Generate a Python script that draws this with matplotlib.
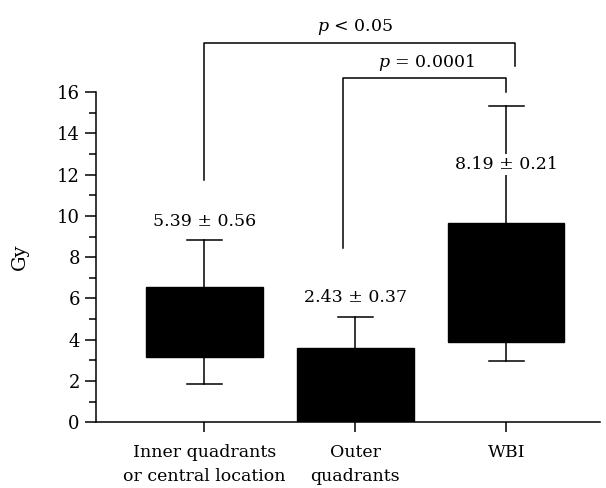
import numpy as np
import matplotlib.pyplot as plt
from matplotlib.ticker import MultipleLocator

plt.rcParams['font.family'] = ['DejaVu Serif']
plt.rcParams['mathtext.fontset'] = 'dejavuserif'

groups = ['Inner quadrants\nor central location', 'Outer\nquadrants', 'WBI']
q1 = [3.17, 0.0, 3.9]
q3 = [6.57, 3.58, 9.65]
whis_lo = [1.86, 0.0, 2.96]
whis_hi = [8.83, 5.1, 15.34]
labels = ['5.39 ± 0.56', '2.43 ± 0.37', '8.19 ± 0.21']
label_y = [9.75, 6.05, 12.5]

FS = 12.5

fig = plt.figure(figsize=(6.06, 4.88), dpi=100)
ax = fig.add_axes([0.158, 0.135, 0.832, 0.676])

stats = []
for i in range(len(groups)):
    stats.append(dict(q1=q1[i], q3=q3[i], med=(q1[i] + q3[i]) / 2,
                      whislo=whis_lo[i], whishi=whis_hi[i], fliers=[]))

pos = np.arange(1, len(groups) + 1)
ax.bxp(stats, positions=pos, widths=0.77, patch_artist=True, showfliers=False,
       boxprops=dict(facecolor='black', edgecolor='black', linewidth=1),
       medianprops=dict(color='black', linewidth=1),
       whiskerprops=dict(color='black', linewidth=1.1),
       capprops=dict(color='black', linewidth=1.1),
       capwidths=0.23)

# mean +- sem labels, white box covers whisker behind
for x, y, t in zip(pos, label_y, labels):
    ax.text(x, y, t, ha='center', va='center', fontsize=FS,
            bbox=dict(facecolor='white', edgecolor='none', pad=1.5), zorder=5)

# significance brackets
ax.plot([1, 1, 3.06, 3.06], [11.75, 18.38, 18.38, 17.25], color='black',
        lw=1.1, clip_on=False)
ax.text(2.0, 19.15, r'$p$ < 0.05', ha='center', va='center', fontsize=FS)
ax.plot([1.916, 1.916, 3.0, 3.0], [8.43, 16.68, 16.68, 16.0], color='black',
        lw=1.1, clip_on=False)
ax.text(2.47, 17.45, r'$p$ = 0.0001', ha='center', va='center', fontsize=FS)

ax.set_xlim(0.28, 3.62)
ax.set_ylim(0, 16)
ax.set_xticks(pos)
ax.set_xticklabels(groups, fontsize=FS, linespacing=1.55)
ax.yaxis.set_major_locator(MultipleLocator(2))
ax.yaxis.set_minor_locator(MultipleLocator(1))
ax.tick_params(axis='y', which='major', length=8, width=1.1, labelsize=FS + 0.5, direction='out')
ax.tick_params(axis='y', which='minor', length=5, width=1.1, direction='out')
ax.tick_params(axis='x', length=7, width=1.1, direction='out', pad=9)
ax.set_ylabel('Gy', fontsize=FS + 1.5, labelpad=20)

ax.spines['top'].set_visible(False)
ax.spines['right'].set_visible(False)
ax.spines['left'].set_linewidth(1.1)
ax.spines['bottom'].set_linewidth(1.1)

plt.savefig('out.png', dpi=100)
plt.close()
